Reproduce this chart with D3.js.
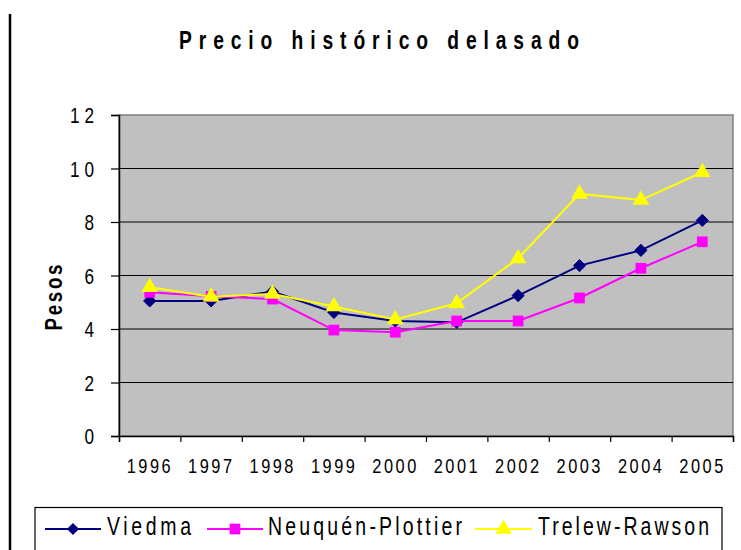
<!DOCTYPE html>
<html>
<head>
<meta charset="utf-8">
<script src="https://cdn.jsdelivr.net/npm/d3@7"></script>
<style>
  body { margin: 0; background: #fff; }
  svg text { font-family: "Liberation Sans", Arial, sans-serif; fill: #000; }
</style>
</head>
<body>
<div id="chart"></div>
<script>
// Data
const years = ["1996", "1997", "1998", "1999", "2000", "2001", "2002", "2003", "2004", "2005"]
const viedma = [5.05, 5.05, 5.4, 4.62, 4.3, 4.25, 5.25, 6.37, 6.94, 8.06]
const neuquen = [5.37, 5.22, 5.12, 3.96, 3.88, 4.3, 4.3, 5.16, 6.27, 7.26]
const trelew = [5.56, 5.21, 5.31, 4.84, 4.36, 4.96, 6.64, 9.05, 8.82, 9.86]
const yTicks = [0, 2, 4, 6, 8, 10, 12]
const seriesNames = ["Viedma", "Neuquén-Plottier", "Trelew-Rawson"]

const series = [
  { name: seriesNames[0], values: viedma, color: "#000080", symbol: d3.symbolDiamond2, size: 95 },
  { name: seriesNames[1], values: neuquen, color: "#FF00FF", symbol: d3.symbolSquare, size: 115 },
  { name: seriesNames[2], values: trelew, color: "#FFFF00", symbol: d3.symbolTriangle, size: 120 }
]

// narrow look: squeeze the glyphs, then spread the letters to a given width
const squeeze = 0.78
function narrowText(parent, x, y, str, opts) {
  const rot = opts.rotate ? ` rotate(${opts.rotate})` : ""
  const t = parent.append("text")
    .attr("transform", `translate(${x}, ${y})${rot} scale(${opts.squeeze || squeeze}, 1)`)
    .attr("text-anchor", opts.anchor || "start")
    .style("font-size", opts.size + "px")
    .style("font-weight", opts.bold ? "bold" : "normal")
    .text(str)
  if (opts.width) {
    t.attr("textLength", opts.width / (opts.squeeze || squeeze)).attr("lengthAdjust", "spacing")
  }
  return t
}

// Dimensions
const dimensions = {
  width: 741,
  height: 550,
  margins: { top: 115, right: 8, bottom: 114, left: 119 }
}
dimensions.ctrWidth = dimensions.width - dimensions.margins.left - dimensions.margins.right
dimensions.ctrHeight = dimensions.height - dimensions.margins.top - dimensions.margins.bottom

const svg = d3.select("#chart")
  .append("svg")
  .attr("width", dimensions.width)
  .attr("height", dimensions.height)

// outer frame line on the left
svg.append("line")
  .attr("x1", 10).attr("x2", 10)
  .attr("y1", 14).attr("y2", dimensions.height)
  .attr("stroke", "#000")
  .attr("stroke-width", 2.5)

// Title
narrowText(svg, 379, 49, "Precio histórico delasado", { size: 26, bold: true, anchor: "middle", width: 400, squeeze: 0.74 })

const ctr = svg.append("g")
  .attr("transform", `translate(${dimensions.margins.left}, ${dimensions.margins.top})`)

// Scales
const xScale = d3.scaleBand()
  .domain(years)
  .range([0, dimensions.ctrWidth])

const yScale = d3.scaleLinear()
  .domain([0, 12])
  .range([dimensions.ctrHeight, 0])

// plot area
ctr.append("rect")
  .attr("width", dimensions.ctrWidth)
  .attr("height", dimensions.ctrHeight)
  .attr("fill", "#C0C0C0")
  .attr("stroke", "#808080")
  .attr("stroke-width", 1.5)

// gridlines
ctr.selectAll(".grid")
  .data(yTicks.filter(d => d > 0 && d < 12))
  .join("line")
  .attr("class", "grid")
  .attr("x1", 0)
  .attr("x2", dimensions.ctrWidth)
  .attr("y1", d => yScale(d))
  .attr("y2", d => yScale(d))
  .attr("stroke", "#000")
  .attr("stroke-width", 1.2)

// Axes
const yAxis = d3.axisLeft(yScale)
  .tickValues(yTicks)
  .tickSize(8)
  .tickFormat("")
const yAxisGroup = ctr.append("g").call(yAxis)
yAxisGroup.select(".domain").attr("stroke", "#000").attr("stroke-width", 1.5)
yAxisGroup.selectAll(".tick line").attr("stroke", "#000").attr("stroke-width", 1.2)

yTicks.forEach(v => {
  const label = String(v)
  narrowText(ctr, -25, yScale(v) + 8, label, {
    size: 22, anchor: "end", width: label.length > 1 ? 24 : null
  })
})

const xAxis = d3.axisBottom(d3.scaleLinear().domain([0, years.length]).range([0, dimensions.ctrWidth]))
  .tickValues(d3.range(years.length + 1))
  .tickSize(6)
  .tickFormat("")
const xAxisGroup = ctr.append("g")
  .attr("transform", `translate(0, ${dimensions.ctrHeight})`)
  .call(xAxis)
xAxisGroup.select(".domain").attr("stroke", "#000").attr("stroke-width", 1.5)
xAxisGroup.selectAll(".tick line").attr("stroke", "#000").attr("stroke-width", 1.2)

years.forEach(yr => {
  narrowText(ctr, xScale(yr) + xScale.bandwidth() / 2 - 1, dimensions.ctrHeight + 37, yr, {
    size: 21, anchor: "middle", width: 44
  })
})

// y axis label
narrowText(svg, 62, 297.5, "Pesos", { size: 24, bold: true, anchor: "middle", rotate: -90, width: 66 })

// Lines and markers
const lineGen = d3.line()
  .x((d, i) => xScale(years[i]) + xScale.bandwidth() / 2)
  .y(d => yScale(d))

series.forEach(s => {
  ctr.append("path")
    .datum(s.values)
    .attr("d", lineGen)
    .attr("fill", "none")
    .attr("stroke", s.color)
    .attr("stroke-width", 2)

  ctr.selectAll(null)
    .data(s.values)
    .join("path")
    .attr("transform", (d, i) => `translate(${xScale(years[i]) + xScale.bandwidth() / 2}, ${yScale(d)})`)
    .attr("d", d3.symbol().type(s.symbol).size(s.size))
    .attr("fill", s.color)
    .attr("stroke", s.symbol === d3.symbolDiamond2 ? s.color : "none")
})

// Legend
const legend = svg.append("g")
legend.append("rect")
  .attr("x", 35)
  .attr("y", 507.5)
  .attr("width", 687)
  .attr("height", 60)
  .attr("fill", "none")
  .attr("stroke", "#000")
  .attr("stroke-width", 1.2)

const legendItems = [
  { lineX: 45, lineW: 56, textX: 107, textW: 84 },
  { lineX: 207, lineW: 56, textX: 268, textW: 194 },
  { lineX: 475, lineW: 57, textX: 538, textW: 171 }
]

series.forEach((s, i) => {
  const it = legendItems[i]
  const cy = 529
  legend.append("line")
    .attr("x1", it.lineX).attr("x2", it.lineX + it.lineW)
    .attr("y1", cy).attr("y2", cy)
    .attr("stroke", s.color)
    .attr("stroke-width", 2)
  legend.append("path")
    .attr("transform", `translate(${it.lineX + it.lineW / 2}, ${cy})`)
    .attr("d", d3.symbol().type(s.symbol).size(s.size))
    .attr("fill", s.color)
  narrowText(legend, it.textX, 535, s.name, { size: 25, width: it.textW })
})
</script>
</body>
</html>
